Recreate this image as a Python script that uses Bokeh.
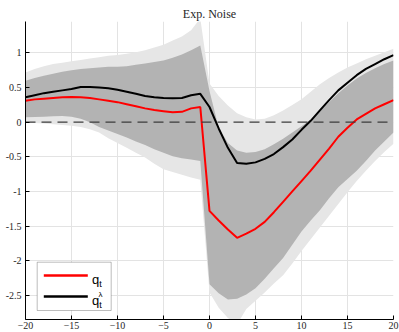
from bokeh.plotting import figure
from bokeh.models import Span, BoxAnnotation, Label, Arrow, FixedTicker, Range1d
from bokeh.embed import file_html
from bokeh.resources import INLINE

# horizon (periods relative to the shock)
horizon = list(range(-20, 21))

# median responses
q_t = [0.31, 0.33, 0.34, 0.35, 0.36, 0.365, 0.36, 0.35, 0.33, 0.31,
       0.29, 0.26, 0.23, 0.20, 0.175, 0.16, 0.145, 0.15, 0.20, 0.22,
       -1.28, -1.42, -1.55, -1.67, -1.61, -1.54, -1.44, -1.30, -1.15, -1.00,
       -0.85, -0.70, -0.54, -0.38, -0.21, -0.08, 0.04, 0.12, 0.20, 0.26,
       0.32]
q_lambda = [0.36, 0.39, 0.42, 0.44, 0.46, 0.48, 0.51, 0.51, 0.50, 0.49,
            0.47, 0.44, 0.41, 0.38, 0.36, 0.35, 0.345, 0.35, 0.39, 0.41,
            0.22, -0.09, -0.37, -0.59, -0.60, -0.58, -0.53, -0.46, -0.36, -0.25,
            -0.11, 0.02, 0.17, 0.32, 0.46, 0.57, 0.68, 0.77, 0.84, 0.91,
            0.97]

# inner credible band
band_in_lo = [0.07, 0.075, 0.08, 0.085, 0.09, 0.08, 0.05, 0.0, -0.07, -0.12,
              -0.17, -0.22, -0.28, -0.33, -0.39, -0.44, -0.49, -0.52, -0.54, -0.56,
              -2.34, -2.47, -2.56, -2.55, -2.49, -2.40, -2.26, -2.11, -1.96, -1.77,
              -1.58, -1.42, -1.27, -1.10, -0.94, -0.82, -0.70, -0.56, -0.41, -0.28,
              -0.15]
band_in_hi = [0.60, 0.64, 0.67, 0.70, 0.73, 0.75, 0.77, 0.78, 0.79, 0.80,
              0.80, 0.81, 0.83, 0.85, 0.87, 0.89, 0.93, 0.98, 1.04, 1.11,
              0.45, -0.08, -0.30, -0.41, -0.44, -0.43, -0.39, -0.32, -0.24, -0.15,
              -0.06, 0.04, 0.16, 0.29, 0.42, 0.53, 0.63, 0.71, 0.78, 0.84,
              0.89]

# outer credible band
band_out_lo = [0.0, -0.01, -0.02, -0.03, -0.04, -0.05, -0.07, -0.10, -0.15, -0.23,
               -0.30, -0.37, -0.44, -0.51, -0.60, -0.68, -0.72, -0.76, -0.80, -0.83,
               -2.46, -2.68, -2.83, -2.92, -2.70, -2.58, -2.46, -2.33, -2.21, -2.04,
               -1.86, -1.69, -1.52, -1.35, -1.18, -1.01, -0.85, -0.70, -0.56, -0.43,
               -0.31]
band_out_hi = [0.72, 0.77, 0.81, 0.84, 0.86, 0.88, 0.90, 0.92, 0.94, 0.96,
               0.97, 0.99, 1.01, 1.04, 1.08, 1.12, 1.18, 1.24, 1.33, 1.50,
               0.56, 0.38, 0.24, 0.13, 0.07, 0.04, 0.05, 0.10, 0.17, 0.25,
               0.33, 0.44, 0.55, 0.64, 0.72, 0.79, 0.85, 0.91, 0.96, 1.01,
               1.06]

x_ticks = [-20, -15, -10, -5, 0, 5, 10, 15, 20]
y_ticks = [-2.5, -2, -1.5, -1, -0.5, 0, 0.5, 1]
y_tick_labels = ["-2.5", "-2", "-1.5", "-1", "-0.5", "0", "0.5", "1"]

SERIF = "Liberation Serif"
SANS = "Liberation Sans"
TEXT = "#262626"

p = figure(width=399, height=332, title="Exp. Noise",
           x_range=Range1d(-20, 20), y_range=Range1d(-2.85, 1.455),
           output_backend="svg", toolbar_location=None,
           min_border_left=25, min_border_right=6,
           min_border_top=21, min_border_bottom=13)

p.title.align = "center"
p.title.text_font = SERIF
p.title.text_font_style = "normal"
p.title.text_font_size = "12px"
p.title.text_color = TEXT
p.title.standoff = 2
p.title.offset = 0

p.outline_line_color = None
p.background_fill_color = "white"
p.border_fill_color = "white"

p.xaxis.ticker = FixedTicker(ticks=x_ticks)
p.yaxis.ticker = FixedTicker(ticks=y_ticks)
p.yaxis.major_label_overrides = {t: s for t, s in zip(y_ticks, y_tick_labels)}
for ax in (p.xaxis, p.yaxis):
    ax.axis_line_color = "black"
    ax.axis_line_width = 1
    ax.major_tick_line_color = "black"
    ax.major_tick_in = 4
    ax.major_tick_out = 0
    ax.minor_tick_in = 0
    ax.minor_tick_out = 0
    ax.major_label_text_font = SERIF
    ax.major_label_text_font_size = "10px"
    ax.major_label_text_color = TEXT
p.xaxis.major_label_standoff = 2
p.yaxis.major_label_standoff = 4

p.grid.grid_line_color = "#e3e3e3"
p.grid.grid_line_width = 1

# credible bands
p.varea(x=horizon, y1=band_out_lo, y2=band_out_hi, fill_color="#e6e6e6")
p.varea(x=horizon, y1=band_in_lo, y2=band_in_hi, fill_color="#b3b3b3")

p.add_layout(Span(location=0, dimension="width", line_color="#3c3c3c",
                  line_dash="10 6", line_width=1.2, level="glyph"))

p.line(horizon, q_t, line_color="red", line_width=2)
p.line(horizon, q_lambda, line_color="black", line_width=2)

# legend box (screen units measured from the frame's lower-left corner)
p.add_layout(BoxAnnotation(left=11.7, right=85.7, bottom=9, top=57.3,
                           left_units="screen", right_units="screen",
                           bottom_units="screen", top_units="screen",
                           fill_color="white", fill_alpha=1,
                           line_color="#262626", line_width=1, level="overlay"))
for y, col in ((44, "red"), (23, "black")):
    p.add_layout(Arrow(end=None, x_start=18.3, y_start=y, x_end=62.3, y_end=y,
                       start_units="screen", end_units="screen",
                       line_color=col, line_width=2.5, level="overlay"))

def txt(x, y, s, size):
    p.add_layout(Label(x=x, y=y, text=s, x_units="screen", y_units="screen",
                       text_font=SANS, text_font_size=size, text_color="black",
                       text_baseline="alphabetic", level="overlay"))

txt(66.5, 40.5, "q", "13px")
txt(73.8, 35.5, "t", "9px")
txt(66.5, 19.5, "q", "13px")
txt(73.8, 14.5, "t", "9px")
txt(73.0, 25.5, "λ", "8px")

open("out.html", "w").write(file_html(p, INLINE))
